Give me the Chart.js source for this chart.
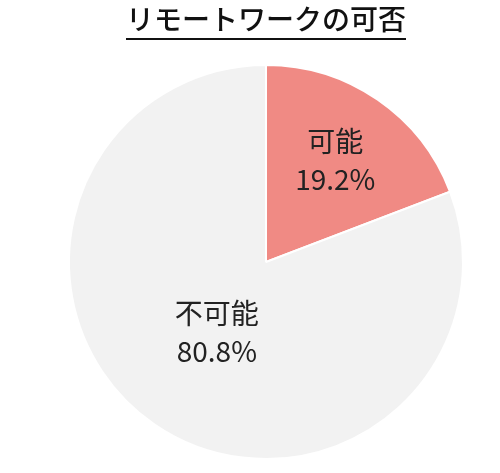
<!DOCTYPE html>
<html><head><meta charset="utf-8">
<script src="https://cdn.jsdelivr.net/npm/chart.js@4"></script>
<style>body{margin:0;background:#fff}#wrap{width:500px;height:473px}</style>
</head><body><div id="wrap"><canvas id="c"></canvas></div>
<script>
var title = "リモートワークの可否";
var labels = ["可能", "不可能"];
var values = [19.2, 80.8];
var colors = ["#F08A84", "#F2F2F2"];
var FONT = "'Noto Sans CJK JP', 'Noto Sans', sans-serif";

// title with underline + slice labels
var drawText = {
  id: "drawText",
  afterDraw: function (chart) {
    var ctx = chart.ctx;
    ctx.save();
    ctx.fillStyle = "#111";
    ctx.font = "500 28px " + FONT;
    ctx.textAlign = "center";
    ctx.textBaseline = "middle";
    ctx.fillText(title, 266, 19);
    var w = ctx.measureText(title).width;
    ctx.fillRect(266 - w / 2, 38, w, 2);

    var factors = [0.62, 0.44];
    var arcs = chart.getDatasetMeta(0).data;
    arcs.forEach(function (a, i) {
      var mid = (a.startAngle + a.endAngle) / 2;
      var d = a.outerRadius * factors[i];
      var x = a.x + Math.cos(mid) * d;
      var y = a.y + Math.sin(mid) * d;
      ctx.fillStyle = "#222";
      ctx.font = "28px " + FONT;
      ctx.fillText(labels[i], x, y - 20);
      ctx.fillText(values[i].toFixed(1) + "%", x, y + 18);
    });
    ctx.restore();
  }
};

new Chart(document.getElementById("c"), {
  type: "pie",
  data: {
    labels: labels,
    datasets: [{
      data: values,
      backgroundColor: colors,
      borderColor: "#fff",
      borderWidth: 2
    }]
  },
  options: {
    responsive: true,
    maintainAspectRatio: false,
    animation: false,
    layout: { padding: { left: 32, right: 0, top: 64, bottom: 13 } },
    plugins: { legend: { display: false }, tooltip: { enabled: false } }
  },
  plugins: [drawText]
});
</script></body></html>
